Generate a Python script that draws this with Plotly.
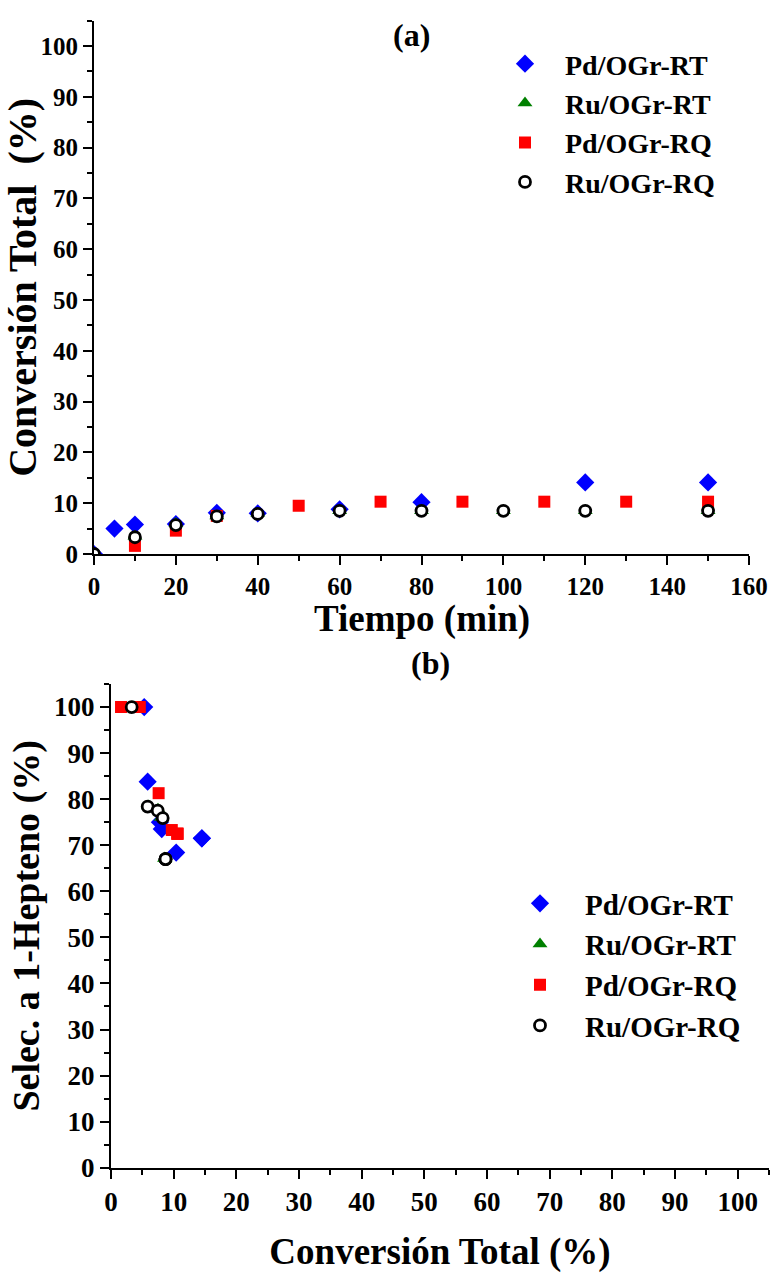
import plotly.graph_objects as go

# ---------------- data: panel (a) conversion vs time ----------------
names = ["Pd/OGr-RT", "Ru/OGr-RT", "Pd/OGr-RQ", "Ru/OGr-RQ"]

t_pd_rt = [0, 5, 10, 20, 30, 40, 60, 80, 120, 150]
c_pd_rt = [0, 5.0, 5.8, 5.9, 8.1, 8.0, 8.8, 10.2, 14.1, 14.1]

t_ru_rt = [0, 10, 20, 30, 40, 60, 80, 100, 120, 150]
c_ru_rt = [0, 3.5, 6.0, 7.5, 8.0, 8.5, 8.5, 8.5, 8.5, 8.5]

t_pd_rq = [10, 20, 30, 50, 70, 90, 110, 130, 150]
c_pd_rq = [1.6, 4.6, 7.5, 9.5, 10.3, 10.3, 10.3, 10.3, 10.3]

t_ru_rq = [0, 10, 20, 30, 40, 60, 80, 100, 120, 150]
c_ru_rq = [0, 3.3, 5.7, 7.4, 7.9, 8.5, 8.5, 8.5, 8.5, 8.5]

# ---------------- data: panel (b) selectivity vs conversion ----------------
x_pd_rt = [5.3, 5.85, 7.8, 8.1, 10.4, 14.5, 14.5]
s_pd_rt = [100, 83.8, 75.0, 73.5, 68.4, 71.5, 71.5]

x_ru_rt = [3.5, 6.0, 7.5, 8.0, 8.6, 8.6, 8.6]
s_ru_rt = [100, 78.5, 77.8, 76.0, 67.2, 67.2, 67.2]

x_pd_rq = [1.6, 4.6, 7.6, 9.7, 10.6, 10.6, 10.6]
s_pd_rq = [100, 100, 81.3, 73.3, 72.5, 72.5, 72.5]

x_ru_rq = [3.3, 5.85, 7.45, 8.25, 8.7, 8.7, 8.7]
s_ru_rq = [100, 78.4, 77.5, 75.9, 67.0, 67.0, 67.0]

W, H = 774, 1275
FONT = "Liberation Serif, Times New Roman, Times, serif"

styles = [
    dict(symbol="diamond", size=14, color="#0000ff", line=dict(width=0)),
    dict(symbol="triangle-up", size=13, color="#008000", line=dict(width=0)),
    dict(symbol="square", size=12, color="#ff0000", line=dict(width=0)),
    dict(symbol="circle", size=11, color="white", line=dict(width=2.8, color="black")),
]

fig = go.Figure()

a_data = [(t_pd_rt, c_pd_rt), (t_ru_rt, c_ru_rt), (t_pd_rq, c_pd_rq), (t_ru_rq, c_ru_rq)]
b_data = [(x_pd_rt, s_pd_rt), (x_ru_rt, s_ru_rt), (x_pd_rq, s_pd_rq), (x_ru_rq, s_ru_rq)]

for i, (nm, (x, y)) in enumerate(zip(names, a_data)):
    fig.add_trace(go.Scatter(x=x, y=y, mode="markers", name=nm, marker=styles[i],
                             xaxis="x", yaxis="y", legend="legend",
                             legendgroup="a%d" % i))
for i, (nm, (x, y)) in enumerate(zip(names, b_data)):
    fig.add_trace(go.Scatter(x=x, y=y, mode="markers", name=nm, marker=styles[i],
                             xaxis="x2", yaxis="y2", legend="legend2",
                             legendgroup="b%d" % i))

def px_x(p):
    return p / W

def px_y(p):
    return 1 - p / H

def axis_style(tick_size):
    return dict(
        showline=True, linecolor="black", linewidth=2, mirror=False,
        ticks="outside", ticklen=9, tickwidth=2, tickcolor="black",
        showgrid=False, zeroline=False, automargin=False,
        tickfont=dict(family=FONT, size=tick_size, color="black", weight="bold"),
    )

def minor(dt):
    return dict(ticks="outside", ticklen=5, tickwidth=1.5, tickcolor="black", dtick=dt)

fig.update_layout(
    width=W, height=H,
    margin=dict(l=0, r=0, t=0, b=0),
    paper_bgcolor="white", plot_bgcolor="white",
    font=dict(family=FONT, color="black"),
    xaxis=dict(axis_style(25), domain=[px_x(94), px_x(749)], range=[0, 160],
               tickvals=list(range(0, 161, 20)), minor=minor(10), anchor="y"),
    yaxis=dict(axis_style(25), domain=[px_y(554), px_y(20.7)], range=[0, 105],
               tickvals=list(range(0, 101, 10)), minor=minor(5), anchor="x",
               title=dict(text="<b>Conversión Total  (%)</b>", font=dict(family=FONT, size=40), standoff=6)),
    xaxis2=dict(axis_style(27), domain=[px_x(111), px_x(769)], range=[0, 105],
                tickvals=list(range(0, 101, 10)), minor=minor(5), anchor="y2",
                title=dict(text="<b>Conversión Total (%)</b>", font=dict(family=FONT, size=37), standoff=22)),
    yaxis2=dict(axis_style(27), domain=[px_y(1167.7), px_y(684)], range=[0, 105],
                tickvals=list(range(0, 101, 10)), minor=minor(5), anchor="x2",
                title=dict(text="<b>Selec. a 1-Hepteno (%)</b>", font=dict(family=FONT, size=38), standoff=3)),
    legend=dict(x=px_x(485), y=px_y(39), xanchor="left", yanchor="top",
                font=dict(family=FONT, size=28, weight="bold"), tracegroupgap=0,
                itemwidth=70, bgcolor="rgba(0,0,0,0)", itemsizing="trace"),
    legend2=dict(x=px_x(495), y=px_y(878), xanchor="left", yanchor="top",
                 font=dict(family=FONT, size=29, weight="bold"), tracegroupgap=0,
                 itemwidth=80, bgcolor="rgba(0,0,0,0)", itemsizing="trace"),
    showlegend=True,
    annotations=[
        dict(text="<b>(a)</b>", x=px_x(411), y=px_y(35), xref="paper", yref="paper",
             xanchor="center", yanchor="middle",
             showarrow=False, font=dict(family=FONT, size=32, color="black")),
        dict(text="<b>(b)</b>", x=px_x(431), y=px_y(663), xref="paper", yref="paper",
             xanchor="center", yanchor="middle",
             showarrow=False, font=dict(family=FONT, size=32, color="black")),
        dict(text="<b>Tiempo (min)</b>", x=px_x(421.5), y=px_y(619), xref="paper", yref="paper",
             xanchor="center", yanchor="middle",
             showarrow=False, font=dict(family=FONT, size=37, color="black")),
    ],
)

fig.write_html("out.html", config={"displayModeBar": False},
               post_script="document.body.style.margin='0px';document.body.style.padding='0px';")
